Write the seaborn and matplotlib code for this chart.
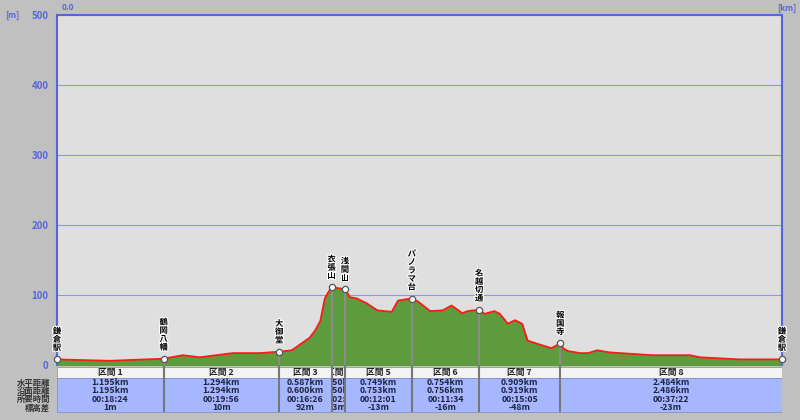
import numpy as np
import seaborn as sns
import matplotlib.pyplot as plt
import matplotlib.patheffects as pe
from matplotlib.transforms import Bbox, TransformedBbox

# waypoints along the route
waypoints = ["鎌倉駅", "鶴岡八幡", "大御堂", "衣張山", "浅間山", "パノラマ台", "名越切通", "報国寺", "鎌倉駅"]
start_elev = 8

# section table
sections = ["区間 1", "区間 2", "区間 3", "区間 4", "区間 5", "区間 6", "区間 7", "区間 8"]
horiz_km = [1.195, 1.294, 0.587, 0.150, 0.749, 0.754, 0.909, 2.484]
slope_km = [1.195, 1.294, 0.600, 0.150, 0.753, 0.756, 0.919, 2.486]
times = ["00:18:24", "00:19:56", "00:16:26", "00:02:30", "00:12:01", "00:11:34", "00:15:05", "00:37:22"]
elev_diff = [1, 10, 92, -3, -13, -16, -48, -23]
row_labels = ["水平距離", "沿面距離", "所要時間", "標高差"]

# elevation profile (km, m)
prof_km = [0.0, 0.59, 1.195, 1.41, 1.60, 1.97, 2.27, 2.489, 2.63, 2.83, 2.89, 2.95, 3.00, 3.03,
           3.076, 3.14, 3.226, 3.28, 3.36, 3.47, 3.59, 3.75, 3.82, 3.92, 3.975, 4.04, 4.18, 4.32,
           4.42, 4.54, 4.60, 4.729, 4.79, 4.90, 4.96, 5.05, 5.13, 5.21, 5.27, 5.41, 5.54, 5.638,
           5.67, 5.72, 5.86, 5.95, 6.05, 6.19, 6.67, 7.09, 7.20, 7.65, 8.122]
prof_m = [8, 6, 9, 14, 11, 17, 17, 19, 21, 39, 49, 63, 95, 102,
          111, 110, 108, 97, 95, 88, 78, 76, 92, 94, 95, 91, 77, 78,
          85, 74, 77, 79, 73, 77, 73, 59, 64, 59, 35, 29, 24, 31,
          24, 20, 17, 17, 21, 18, 14, 14, 11, 8, 8]

BG = "#c0c0c0"
PANEL = "#dfdfdf"
BLUE = "#5566dd"
GRID = "#8a96e6"

sns.set_style("white")
plt.rcParams["font.family"] = ["Noto Sans CJK JP", "DejaVu Sans"]

wp_km = np.concatenate([[0], np.cumsum(horiz_km)])
wp_m = start_elev + np.concatenate([[0], np.cumsum(elev_diff)])
total = wp_km[-1]

fig = plt.figure(figsize=(8, 4.2), dpi=100, facecolor=BG)
ax = fig.add_axes([57 / 800, 1 - 365 / 420, 725 / 800, 350 / 420])
tab = fig.add_axes([57 / 800, 1 - 413 / 420, 725 / 800, 47 / 420])

# profile
ax.set_facecolor(PANEL)
ax.fill_between(prof_km, prof_m, 0, color="#5e9b3c", zorder=2)
sns.lineplot(x=prof_km, y=prof_m, ax=ax, color="#ff1a1a", lw=1.3, zorder=3)
ax.vlines(wp_km[1:-1], 0, wp_m[1:-1], color="#8c8c8c", lw=1.6, zorder=4)
ax.plot(wp_km, wp_m, "o", ms=4.5, mfc="white", mec="#555555", mew=0.9, zorder=5, clip_on=False)

for k, m, name in zip(wp_km, wp_m, waypoints):
    ax.annotate("\n".join(name), (k, m), xytext=(0, 5), textcoords="offset points",
                ha="center", va="bottom", fontsize=6, fontweight="bold", linespacing=0.9,
                color="black", annotation_clip=False, zorder=6,
                path_effects=[pe.withStroke(linewidth=1.5, foreground="white")])

ax.set_xlim(0, total)
ax.set_ylim(0, 500)
ax.set_yticks([0, 100, 200, 300, 400, 500])
ax.set_xticks([])
ax.tick_params(axis="y", length=0, pad=6, labelsize=7, labelcolor=BLUE)
for t in ax.get_yticklabels():
    t.set_fontweight("bold")
ax.grid(axis="y", color=GRID, lw=0.8, zorder=1)
for side in ["left", "right", "top"]:
    ax.spines[side].set_color(BLUE)
    ax.spines[side].set_linewidth(1.5)
ax.spines["bottom"].set_visible(False)

fig.text(5 / 800, 1 - 15 / 420, "[m]", color=BLUE, fontsize=6, fontweight="bold", va="center")
fig.text(62 / 800, 1 - 8 / 420, "0.0", color=BLUE, fontsize=6, fontweight="bold", va="center")
fig.text(787 / 800, 1 - 8 / 420, "[km]", color=BLUE, fontsize=6, fontweight="bold",
         va="center", ha="center")

# section table
tab.set_xlim(0, total)
tab.set_ylim(47, 0)
tab.axis("off")
starts = wp_km[:-1]
heads = tab.bar(starts, [11] * 8, width=horiz_km, bottom=1, align="edge",
                color="#f3f3f3", edgecolor="#9a9a9a", lw=0.6, zorder=1)
cells = tab.bar(starts, [34] * 8, width=horiz_km, bottom=12, align="edge",
                color="#a7b7ff", edgecolor="#8890c0", lw=0.6, zorder=1)
tab.vlines(wp_km[1:-1], 0, 46, color="#777777", lw=1.5, zorder=3)

for i, mid in enumerate(starts + np.array(horiz_km) / 2):
    box = TransformedBbox(Bbox([[starts[i], 0], [starts[i] + horiz_km[i], 47]]), tab.transData)
    t = tab.text(mid, 6.5, sections[i], ha="center", va="center", fontsize=6.3,
                 fontweight="bold", color="#222222", zorder=2)
    t.set_clip_box(box)
    t.set_clip_on(True)
    vals = [f"{horiz_km[i]:.3f}km", f"{slope_km[i]:.3f}km", times[i], f"{elev_diff[i]}m"]
    for j, v in enumerate(vals):
        t = tab.text(mid, 16.5 + 8.3 * j, v, ha="center", va="center", fontsize=6.3,
                     fontweight="bold", color="#1e2244", zorder=2)
        t.set_clip_box(box)
        t.set_clip_on(True)

for j, lab in enumerate(row_labels):
    fig.text(50 / 800, 1 - (383 + 8.3 * j) / 420, lab, ha="right", va="center",
             fontsize=6, fontweight="bold", color="#333333")

fig.savefig("out.png", dpi=100, facecolor=BG)
